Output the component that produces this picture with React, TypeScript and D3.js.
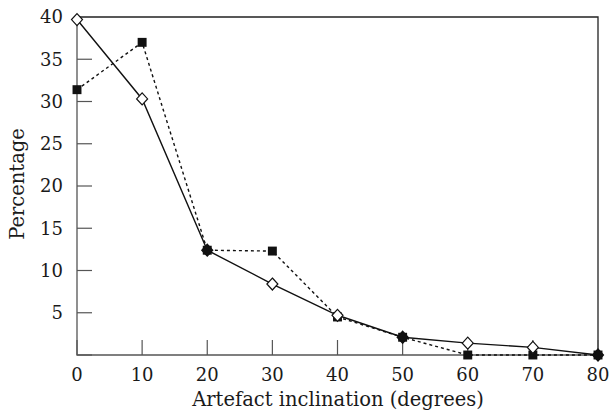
import * as React from "react";
import * as d3 from "d3";

const { useRef, useEffect } = React;

// artefact inclination classes (degrees)
const inclination = [0, 10, 20, 30, 40, 50, 60, 70, 80];
// solid line, open diamonds
const seriesA = [39.7, 30.3, 12.4, 8.4, 4.7, 2.1, 1.4, 0.9, 0];
// dotted line, filled squares
const seriesB = [31.4, 37.0, 12.4, 12.3, 4.5, 2.1, 0, 0, 0];
const yTicks = [5, 10, 15, 20, 25, 30, 35, 40];
const xTicks = [0, 10, 20, 30, 40, 50, 60, 70, 80];

const W = 612, H = 416;
const margin = { top: 17, right: 14, bottom: 61, left: 77 };
const FONT = "'DejaVu Serif', serif";

export default function App() {
    const svgRef = useRef(null);

    useEffect(() => {
        const svg = d3.select(svgRef.current);
        svg.selectAll("*").remove();
        const width = W - margin.left - margin.right;
        const height = H - margin.top - margin.bottom;
        const g = svg.append("g").attr("transform", "translate(" + margin.left + "," + margin.top + ")");

        const x = d3.scaleLinear().domain([0, 80]).range([0, width]);
        const y = d3.scaleLinear().domain([0, 40]).range([height, 0]);

        // frame
        g.append("path")
            .attr("d", `M0,0H${width}V${height}`)
            .attr("fill", "none")
            .attr("stroke", "#222")
            .attr("stroke-width", 1.3);
        g.append("path")
            .attr("d", `M0,0V${height}H${width}`)
            .attr("fill", "none")
            .attr("stroke", "#555")
            .attr("stroke-width", 1.3);

        // y ticks, inward
        g.selectAll(".ytick")
            .data([0, ...yTicks.filter(t => t < 40)])
            .enter().append("line")
            .attr("x1", 0).attr("x2", 15)
            .attr("y1", d => y(d)).attr("y2", d => y(d))
            .attr("stroke", "#555").attr("stroke-width", 1.2);
        g.selectAll(".ylab")
            .data(yTicks)
            .enter().append("text")
            .attr("x", -14).attr("y", d => y(d))
            .attr("dy", "0.35em")
            .attr("text-anchor", "end")
            .attr("font-family", FONT).attr("font-size", 18)
            .attr("fill", "#1a1a1a")
            .text(d => d);

        // x ticks, inward
        g.selectAll(".xtick")
            .data(xTicks)
            .enter().append("line")
            .attr("x1", d => x(d)).attr("x2", d => x(d))
            .attr("y1", height).attr("y2", height - 15)
            .attr("stroke", "#555").attr("stroke-width", 1.2);
        g.selectAll(".xlab")
            .data(xTicks)
            .enter().append("text")
            .attr("x", d => x(d)).attr("y", height + 26)
            .attr("text-anchor", "middle")
            .attr("font-family", FONT).attr("font-size", 18)
            .attr("fill", "#1a1a1a")
            .text(d => d);

        const line = d3.line<number>()
            .x((d, i) => x(inclination[i]))
            .y(d => y(d));

        g.append("path")
            .attr("d", line(seriesB))
            .attr("fill", "none")
            .attr("stroke", "#111")
            .attr("stroke-width", 1.4)
            .attr("stroke-dasharray", "3,3");

        g.append("path")
            .attr("d", line(seriesA))
            .attr("fill", "none")
            .attr("stroke", "#111")
            .attr("stroke-width", 1.4);

        const sym = d3.symbol().type(d3.symbolSquare).size(80);
        g.selectAll(".sq")
            .data(seriesB)
            .enter().append("path")
            .attr("d", sym)
            .attr("transform", (d, i) => "translate(" + x(inclination[i]) + "," + y(d) + ")")
            .attr("fill", "#111");

        g.selectAll(".dm")
            .data(seriesA)
            .enter().append("path")
            .attr("d", "M0,-6L5.5,0L0,6L-5.5,0Z")
            .attr("transform", (d, i) => "translate(" + x(inclination[i]) + "," + y(d) + ")")
            .attr("fill", (d, i) => seriesB[i] === d ? "#111" : "#fff")
            .attr("stroke", "#111")
            .attr("stroke-width", 1.2);

        svg.append("text")
            .attr("x", 338)
            .attr("y", H - 10)
            .attr("text-anchor", "middle")
            .attr("font-family", FONT).attr("font-size", 19.5)
            .attr("fill", "#1a1a1a")
            .text("Artefact inclination (degrees)");

        svg.append("text")
            .attr("transform", "translate(24,184) rotate(-90)")
            .attr("text-anchor", "middle")
            .attr("font-family", FONT).attr("font-size", 19.5)
            .attr("fill", "#1a1a1a")
            .text("Percentage");
    }, []);

    return (
        <div style={{ position: "absolute", left: 0, top: 0 }}>
            <svg ref={svgRef} width={W} height={H} style={{ display: "block", background: "#fff" }}></svg>
        </div>
    );
}
